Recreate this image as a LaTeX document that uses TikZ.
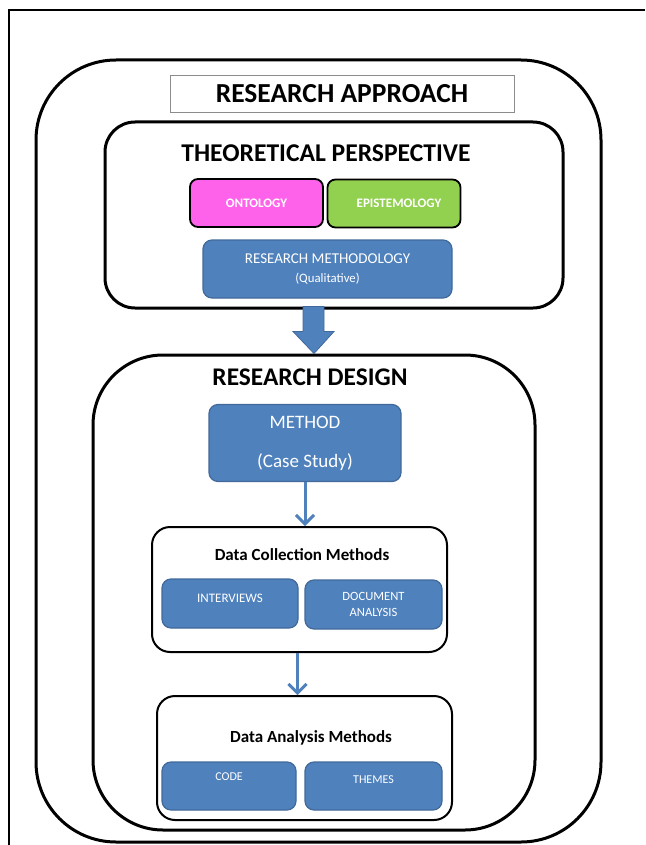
\documentclass[tikz,border=0pt]{standalone}
\usepackage{fontspec}
\setmainfont{Carlito}
\usetikzlibrary{arrows.meta}
\definecolor{boxblue}{HTML}{4F81BD}
\definecolor{boxedge}{HTML}{41699A}
\definecolor{ontopink}{HTML}{FF62EA}
\definecolor{epigreen}{HTML}{92D050}
\begin{document}
\begin{tikzpicture}[x=1pt,y=-1pt,
  bigbox/.style={draw,line width=3pt,rounded corners=#1},
  midbox/.style={draw,line width=2pt,rounded corners=18pt},
  bluebox/.style={draw=boxedge,line width=1.2pt,fill=boxblue,rounded corners=9pt,text=white,align=center,inner sep=0pt},
  tagbox/.style={draw,line width=1.8pt,fill=#1,rounded corners=8pt,text=white,font=\fontsize{13}{15}\selectfont\bfseries,minimum width=133pt,minimum height=48pt},
  headline/.style={font=\fontsize{#1}{#1}\selectfont\bfseries},
  flowarrow/.style={draw=boxblue,line width=3pt,-{Straight Barb[length=9pt,width=18pt]}}]
\useasboundingbox (0,0) rectangle (645,845);
\draw[line width=1.5pt] (9,845) -- (9,10) -- (645,10);
\node[bigbox=80pt,minimum width=565pt,minimum height=782pt] (approach) at (318.5,451) {};
\node[draw=black!45,line width=0.8pt,minimum width=344pt,minimum height=37pt,headline=27.5] (approachtitle) at (342,94) {RESEARCH APPROACH};

\node[bigbox=30pt,minimum width=458pt,minimum height=186pt] (theory) at (334,215) {};
\node[headline=25.6] (theorytitle) at (326,153) {THEORETICAL PERSPECTIVE};
\node[tagbox=ontopink] (ontology) at (256.5,203) {ONTOLOGY};
\node[tagbox=epigreen] (epistemology) at (394,203.5) {\hspace{10pt}EPISTEMOLOGY};
\node[bluebox,minimum width=249pt,minimum height=58pt,font=\fontsize{15}{19}\selectfont] (methodology) at (327.5,269) {RESEARCH METHODOLOGY\\{\fontsize{12.8}{14}\selectfont(Qualitative)}};

\node[bigbox=70pt,minimum width=442pt,minimum height=475pt] (design) at (314,592.5) {};
\node[headline=25.4] (designtitle) at (310,377) {RESEARCH DESIGN};
\fill[boxblue,draw=boxedge,line width=0.8pt] (design.north) -- ++(-21,-22) -- ++(10,0) -- ++(0,-25) -- ++(21,0) -- ++(0,25) -- ++(10,0) -- cycle;
\node[bluebox,minimum width=192pt,minimum height=77pt,font=\fontsize{19}{21}\selectfont] (method) at (305,443) {METHOD\\[18pt](Case Study)};

\node[midbox,minimum width=295pt,minimum height=125pt] (collection) at (299.5,589.5) {};
\node[headline=17] (collectiontitle) at (302,555) {Data Collection Methods};
\node[bluebox,minimum width=136pt,minimum height=49pt,font=\fontsize{13}{16}\selectfont] (interviews) at (230,603.5) {\raisebox{11pt}{INTERVIEWS}};
\node[bluebox,minimum width=137pt,minimum height=49pt,font=\fontsize{12.6}{16}\selectfont] (document) at (373.5,604.5) {DOCUMENT\\ANALYSIS};

\node[midbox,minimum width=295pt,minimum height=124pt] (analysis) at (304.5,758) {};
\node[headline=17] (analysistitle) at (311,738) {Data Analysis Methods};
\node[bluebox,minimum width=134pt,minimum height=48pt,font=\fontsize{12}{16}\selectfont] (code) at (229,786) {\raisebox{18pt}{CODE}};
\node[bluebox,minimum width=137pt,minimum height=48pt,font=\fontsize{12}{16}\selectfont] (themes) at (373.5,786) {\raisebox{12pt}{THEMES}};

\draw[flowarrow] (method.south) -- (method.south |- collection.north);
\draw[flowarrow] ([xshift=-2pt]collection.south) -- ([xshift=-2pt]collection.south |- analysis.north);
\end{tikzpicture}
\end{document}
